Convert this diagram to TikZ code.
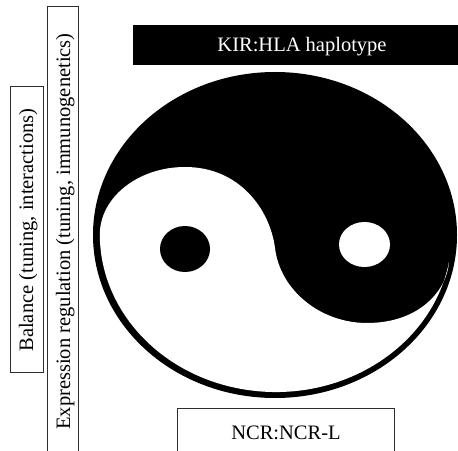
\documentclass[tikz,border=0pt]{standalone}
\usepackage{fontspec}
\setmainfont{Liberation Serif}
\begin{document}
\begin{tikzpicture}[x=1pt, y=1pt, font=\fontsize{20.5}{24}\selectfont]
    % Define colors
    \definecolor{boxgray}{RGB}{45, 45, 45}

    \def\outerrx{182}
    \def\outerry{163}
    \def\innerrx{176}
    \def\innerry{158}

    \useasboundingbox (0,0) rectangle (458,450);

    \coordinate (o0) at (275,215);
    \coordinate (i0) at (276,216);

    \coordinate (l1) at (100,220);
    \coordinate (w1) at (185,283);
    \coordinate (m0) at (275,202);
    \coordinate (b1) at (367,127);
    \coordinate (r1) at (449,188);

    % Draw the yin-yang
    \fill[black] (o0) ellipse [x radius=\outerrx, y radius=\outerry];
    \fill[white] (l1) .. controls (103,255) and (140,283) .. (w1)
        .. controls (240,283) and (270,240) .. (m0)
        .. controls (280,160) and (320,127) .. (b1)
        .. controls (420,127) and (447,160) .. (r1)
        arc [start angle=-10.2, end angle=-181.45, x radius=\innerrx, y radius=\innerry];

    % Draw the dots
    \fill[black] (185,201) ellipse [x radius=25, y radius=23];
    \fill[white] (364.5,205.5) ellipse [x radius=25.5, y radius=22.5];

    % Draw the boxes
    \fill[black] (133,385) rectangle (460,425);
    \draw[boxgray, line width=0.9pt] (10,78) rectangle (43,364);
    \draw[boxgray, line width=0.9pt] (47,-5) rectangle (78,444);
    \draw[boxgray, line width=0.9pt] (177,-5) rectangle (394,42);

    % Labels
    \node[anchor=base, text=white] (kir) at (302,398) {KIR:HLA haplotype};
    \node[anchor=base] (ncr) at (286,10) {NCR:NCR-L};
    \node[anchor=base, rotate=90] (balance) at (33,220) {Balance (tuning, interactions)};
    \node[anchor=base, rotate=90] (expression) at (70,218.5) {Expression regulation (tuning, immunogenetics)};
\end{tikzpicture}
\end{document}
